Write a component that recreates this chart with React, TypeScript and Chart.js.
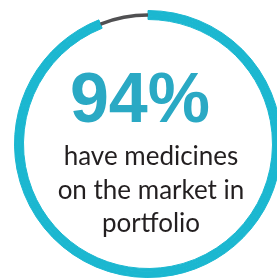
import { useEffect, useRef } from "react";
import { Chart, registerables } from "chart.js";
Chart.register(...registerables);

const categories = ["Medicines on the market", "No medicines on the market"];
const values = [94, 6];
const headline = "94%";
const captionLines = ["have medicines", "on the market in", "portfolio"];

const CYAN = "#1bb7d0";
const GRAY = "#505052";
const NONE = "rgba(0,0,0,0)";

export default function App() {
  const ref = useRef<HTMLCanvasElement>(null);
  useEffect(() => {
    const chart = new Chart(ref.current!, {
      type: "doughnut",
      data: {
        labels: categories,
        datasets: [
          { data: values, backgroundColor: [CYAN, NONE], borderColor: [CYAN, NONE], weight: 3 },
          { data: values, backgroundColor: [CYAN, GRAY], borderColor: [CYAN, NONE], weight: 4 },
          { data: values, backgroundColor: [CYAN, NONE], borderColor: [CYAN, NONE], weight: 3 },
        ],
      },
      options: {
        animation: false,
        responsive: true,
        maintainAspectRatio: false,
        cutout: 124.5,
        spacing: 0,
        events: [],
        layout: { padding: 0 },
        elements: { arc: { borderWidth: 1 } },
        plugins: { legend: { display: false }, tooltip: { enabled: false } },
      },
    });
    return () => chart.destroy();
  }, []);

  return (
    <div
      style={{
        position: "fixed",
        left: 0,
        top: 0,
        width: 277,
        height: 279,
        overflow: "hidden",
        background: "#fff",
      }}
    >
      <div style={{ position: "absolute", left: 14, top: 10, width: 268, height: 268 }}>
        <canvas ref={ref} />
      </div>
      <div
        style={{
          position: "absolute",
          left: 40,
          width: 200,
          top: 64,
          textAlign: "center",
          font: "bold 70px 'Liberation Sans', Arial, sans-serif",
          lineHeight: "69px",
          color: "#2aa9c4",
          whiteSpace: "nowrap",
        }}
      >
        {headline}
      </div>
      {captionLines.map((line, i) => (
        <div
          key={i}
          style={{
            position: "absolute",
            left: 31,
            width: 240,
            top: 139 + i * 33.7,
            textAlign: "center",
            font: "26px Lato, sans-serif",
            lineHeight: "32px",
            color: "#231f20",
            whiteSpace: "nowrap",
          }}
        >
          {line}
        </div>
      ))}
    </div>
  );
}
